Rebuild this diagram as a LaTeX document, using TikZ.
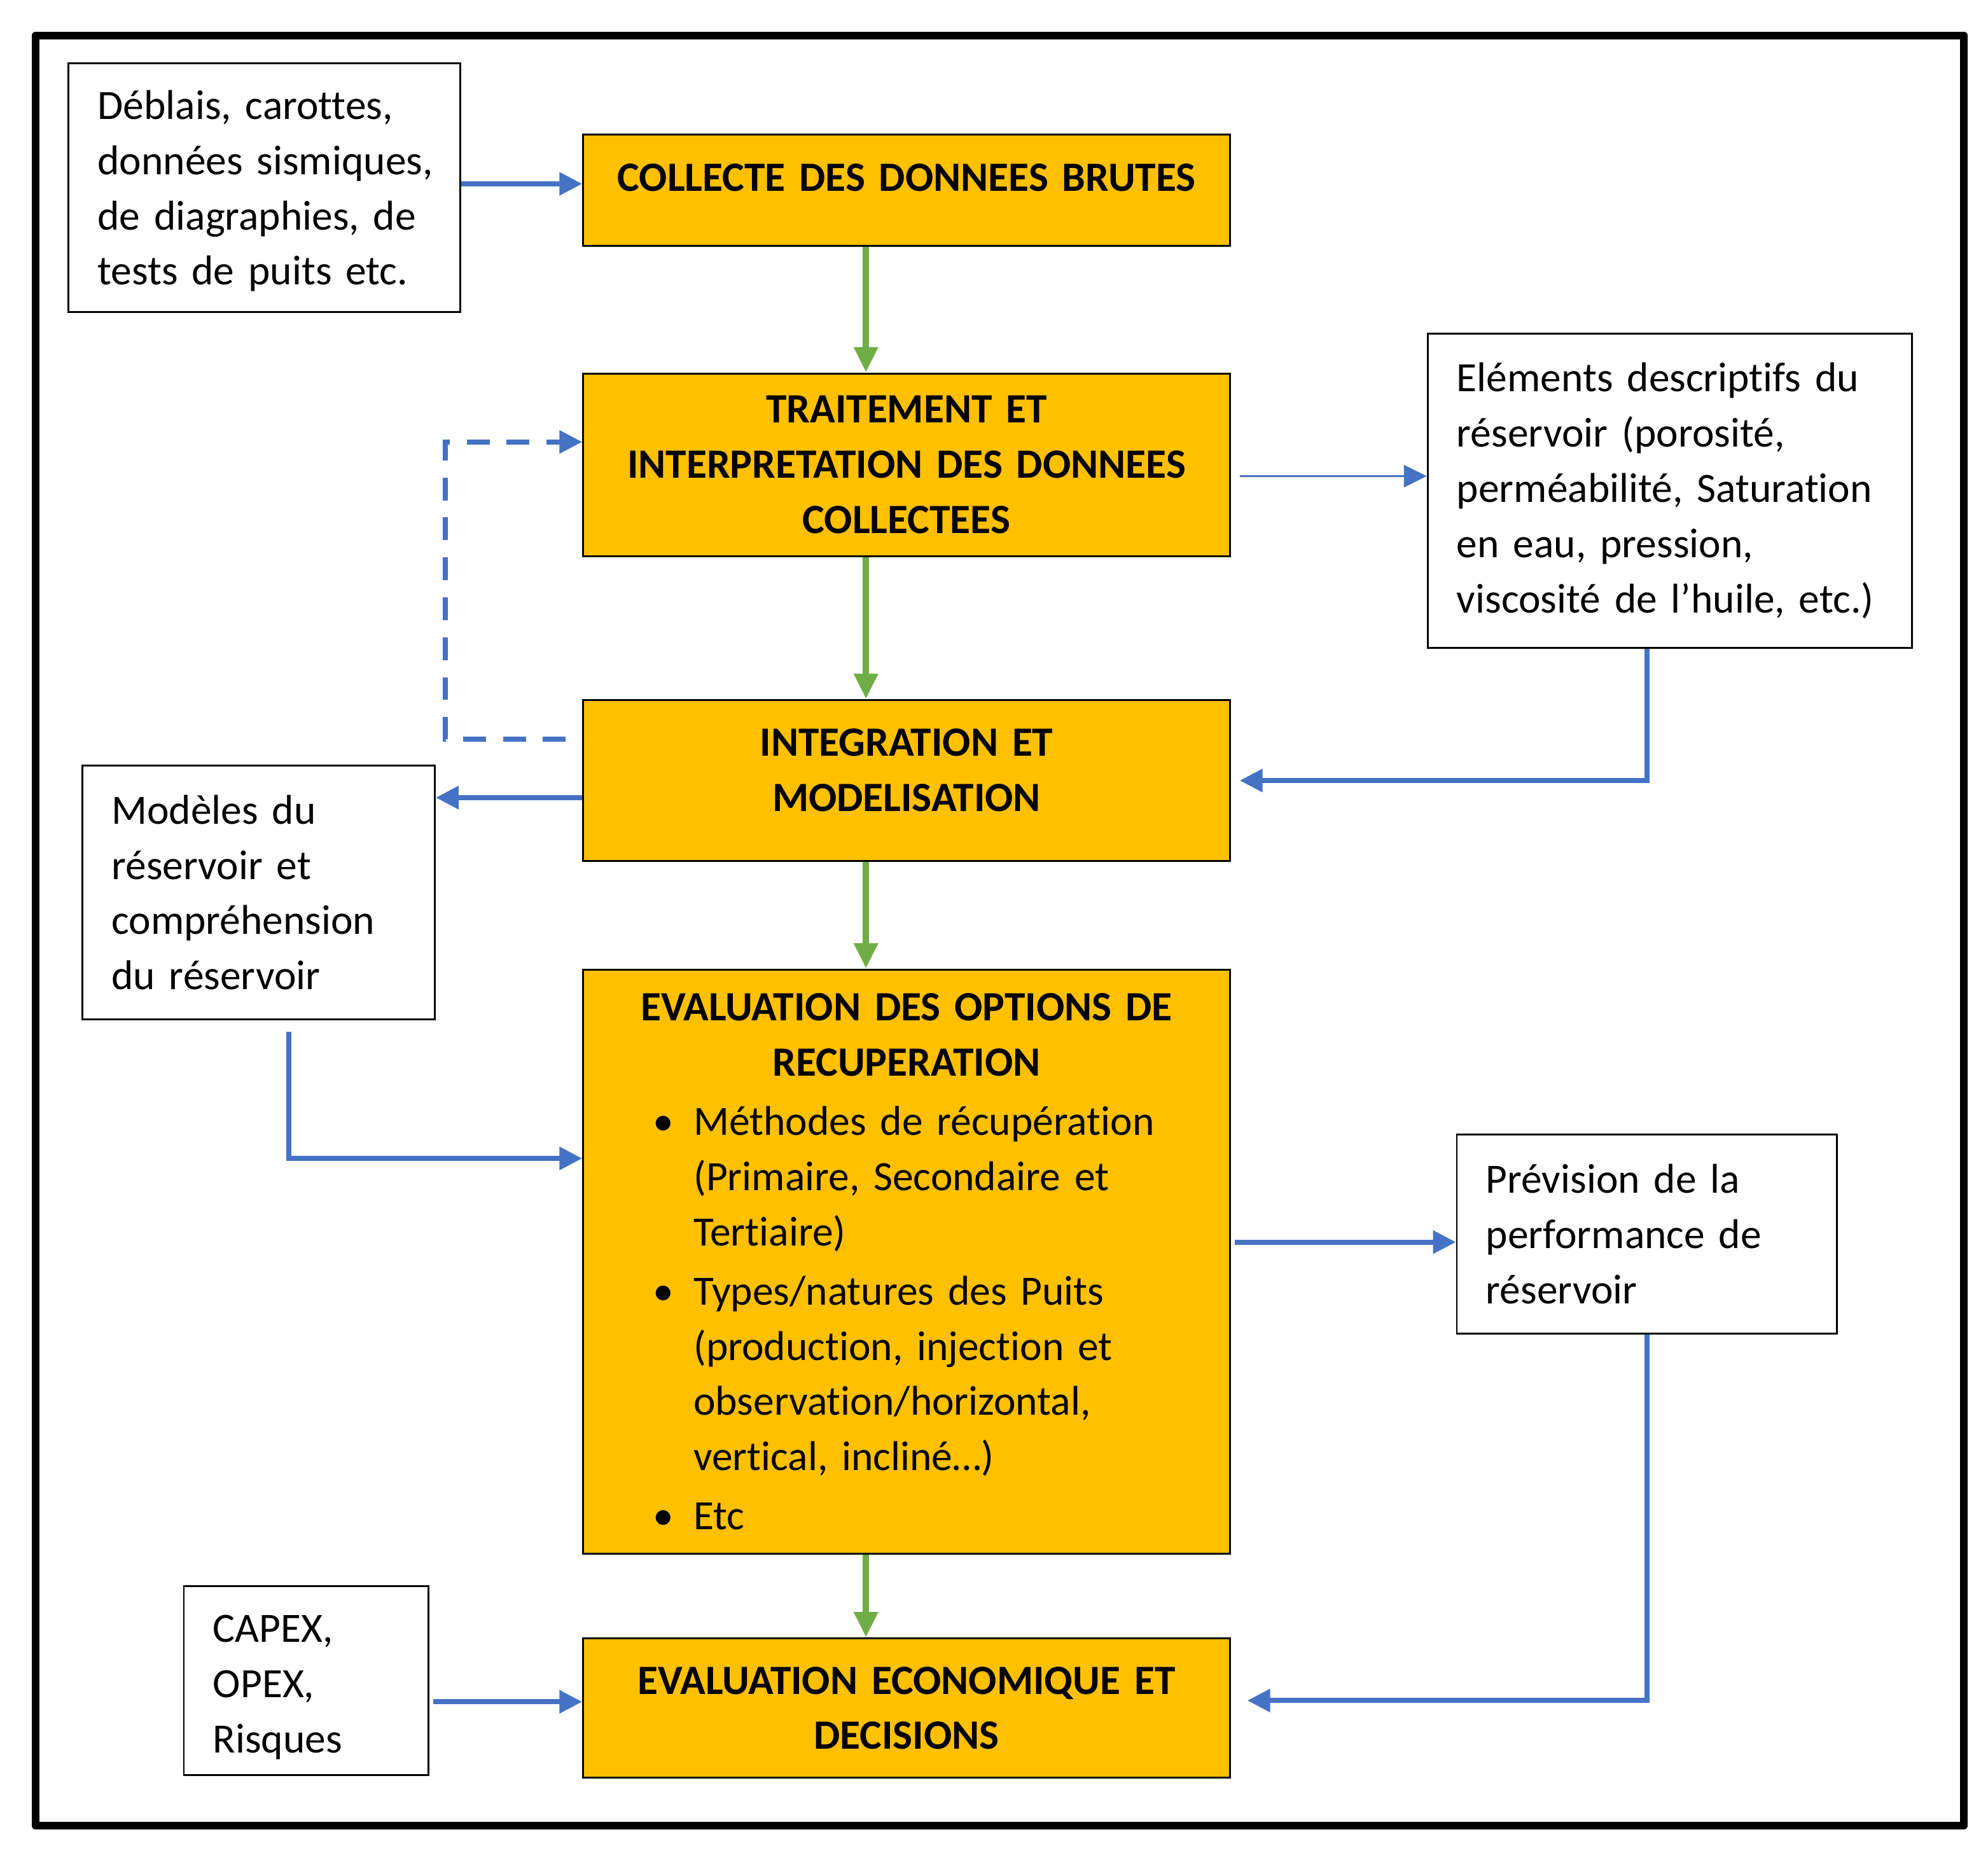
\documentclass[tikz,border=0pt]{standalone}
\usepackage{fontspec}
\setmainfont{Carlito}[Ligatures=NoCommon]
\usetikzlibrary{arrows.meta,positioning,calc}
\definecolor{stagefill}{HTML}{FFC000}
\definecolor{linkblue}{HTML}{4472C4}
\definecolor{flowgreen}{HTML}{70AD47}
\newcommand{\optline}[2]{\makebox[9.6cm][l]{\hspace*{8mm}\makebox[6.4mm][l]{#1}#2}}

\begin{document}
\begin{tikzpicture}[
  box/.style={
    draw=black,line width=0.8pt,fill=white,
    align=left,inner xsep=3mm,inner ysep=1mm,
    font=\fontsize{18.7}{24.8}\selectfont,
    execute at begin node={\leftskip=1.6mm\relax}
  },
  stage/.style={
    draw=black,line width=0.9pt,fill=stagefill,
    minimum width=10.2cm,text width=9.6cm,align=center,
    inner xsep=3mm,inner ysep=1mm,
    font=\fontsize{18.7}{24.8}\selectfont\bfseries
  },
  flow/.style={-{Triangle[length=4mm,width=3.6mm]},draw=flowgreen,line width=3pt},
  link/.style={-{Triangle[length=3.6mm,width=3.5mm]},draw=linkblue,line width=2.3pt},
  thinlink/.style={link,line width=0.85pt},
  feedback/.style={link,dash pattern=on 3.6mm off 2.7mm}
]
\useasboundingbox (0,0) rectangle (31.36,-29.34);
\draw[line width=3.4pt,line join=round] (0.56,-0.56) rectangle (30.98,-28.8);

\node[stage,minimum height=1.76cm,text depth=4mm] (collecte) at (14.3,-3.0) {
  COLLECTE DES DONNEES BRUTES
};
\node[stage,minimum height=2.88cm,below=1.98cm of collecte] (traitement) {
  TRAITEMENT ET\\
  INTERPRETATION DES DONNEES\\
  COLLECTEES
};
\node[stage,minimum height=2.54cm,text depth=12mm,below=2.24cm of traitement] (integration) {
  INTEGRATION ET\\
  MODELISATION
};
\node[stage,minimum height=9.22cm,below=1.68cm of integration] (options) {
  EVALUATION DES OPTIONS DE\\
  RECUPERATION\\[0.6mm]
  \mdseries
  \optline{\textbullet}{Méthodes de récupération}\\
  \optline{}{(Primaire, Secondaire et}\\
  \optline{}{Tertiaire)}\\[0.6mm]
  \optline{\textbullet}{Types/natures des Puits}\\
  \optline{}{(production, injection et}\\
  \optline{}{observation/horizontal,}\\
  \optline{}{vertical, incliné…)}\\[0.6mm]
  \optline{\textbullet}{Etc}
};
\node[stage,minimum height=2.2cm,below=1.3cm of options] (economie) {
  EVALUATION ECONOMIQUE ET\\
  DECISIONS
};

\node[box,text width=5.58cm,minimum height=3.92cm,text height=5.6mm] (deblais) at (4.17,-2.96) {
  Déblais, carottes,\\
  données sismiques,\\
  de diagraphies, de\\
  tests de puits etc.
};
\node[box,text width=7.04cm,minimum height=4.96cm] (elements) at (26.34,-7.74) {
  Eléments descriptifs du\\
  réservoir (porosité,\\
  perméabilité, Saturation\\
  en eau, pression,\\
  viscosité de l’huile, etc.)
};
\node[box,text width=4.96cm,minimum height=4.0cm] (modeles) at (4.08,-14.08) {
  Modèles du\\
  réservoir et\\
  compréhension\\
  du réservoir
};
\node[box,text width=5.4cm,minimum height=3.14cm] (prevision) at (25.98,-19.47) {
  Prévision de la\\
  performance de\\
  réservoir
};
\node[box,text width=3.26cm,minimum height=2.98cm,text height=6.4mm] (capex) at (4.83,-26.51) {
  CAPEX,\\
  OPEX,\\
  Risques
};

\draw[flow] ([xshift=-6.4mm]collecte.south) -- ([xshift=-6.4mm]traitement.north);
\draw[flow] ([xshift=-6.4mm]traitement.south) -- ([xshift=-6.4mm]integration.north);
\draw[flow] ([xshift=-6.4mm]integration.south) -- ([xshift=-6.4mm]options.north);
\draw[flow] ([xshift=-6.4mm]options.south) -- ([xshift=-6.4mm]economie.north);

\draw[link] ([yshift=0.6mm]deblais.east) -- ([yshift=0.6mm]deblais.east -| collecte.west);
\draw[thinlink] ([xshift=1.4mm,yshift=-1.8mm]traitement.east)
  -- ([yshift=-1.8mm]traitement.east -| elements.west);
\draw[link] ([xshift=-3.6mm]elements.south) |- ([xshift=1.4mm]integration.east);
\draw[link] ([yshift=-2.7mm]integration.west) -- ([yshift=-2.7mm]integration.west -| modeles.east);
\draw[link] ([xshift=4.8mm,yshift=-1.8mm]modeles.south) |- ([yshift=16.3mm]options.west);
\draw[feedback] ([xshift=-2.6mm,yshift=6.5mm]integration.west) -- ++(-1.9,0)
  |- ([yshift=3.6mm]traitement.west);
\draw[link] ([xshift=0.6mm,yshift=3.1mm]options.east) -- ([yshift=3.1mm]options.east -| prevision.west);
\draw[link] (prevision.south) |- ([xshift=2.6mm,yshift=1.2mm]economie.east);
\draw[link] ([xshift=0.6mm,yshift=1mm]economie.west -| capex.east) -- ([yshift=1mm]economie.west);

\end{tikzpicture}
\end{document}
